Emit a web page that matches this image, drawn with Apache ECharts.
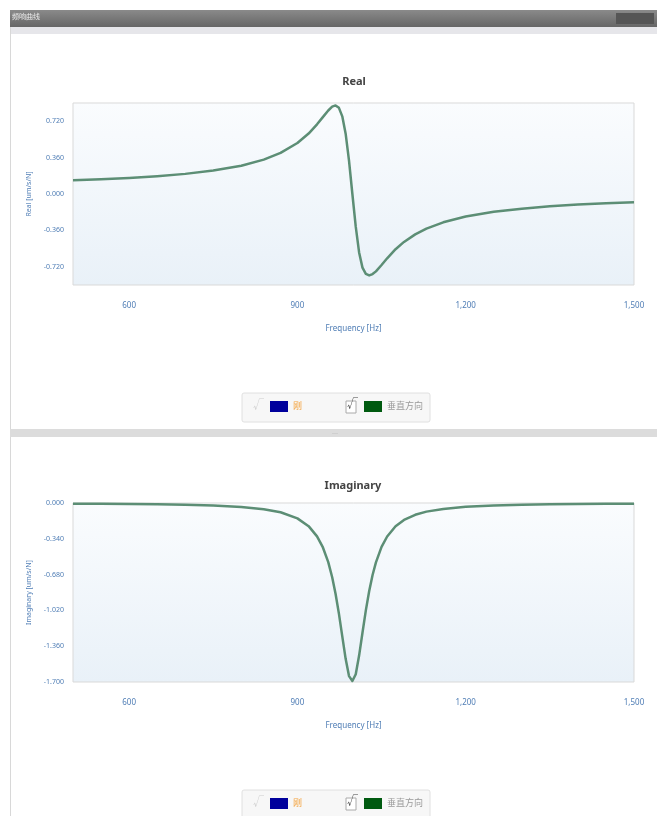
<!DOCTYPE html>
<html>
<head>
<meta charset="utf-8">
<script src="https://cdn.jsdelivr.net/npm/echarts@6/dist/echarts.min.js"></script>
<style>
  html, body { margin: 0; padding: 0; background: #fff; }
  #chart { width: 657px; height: 816px; }
</style>
</head>
<body>
<div id="chart"></div>
<script>
// frequency points (Hz)
const freq = [500, 550, 600, 650, 700, 750, 800, 840, 870, 900, 920, 935, 945, 955, 962, 968, 974, 980, 986, 992,
  998, 1004, 1010, 1016, 1022, 1028, 1034, 1040, 1050, 1060, 1075, 1090, 1110, 1130, 1160, 1200, 1250, 1300,
  1350, 1400, 1450, 1500];
const realVals = [0.136, 0.146, 0.159, 0.176, 0.199, 0.232, 0.280, 0.340, 0.406, 0.504, 0.598, 0.689, 0.758, 0.826,
  0.864, 0.876, 0.852, 0.768, 0.597, 0.331, 0.000, -0.323, -0.578, -0.728, -0.790, -0.805, -0.792, -0.765, -0.702,
  -0.636, -0.546, -0.474, -0.399, -0.342, -0.280, -0.223, -0.176, -0.145, -0.122, -0.105, -0.091, -0.081];
const imagVals = [-0.006, -0.007, -0.009, -0.012, -0.017, -0.024, -0.038, -0.059, -0.088, -0.146, -0.220, -0.317,
  -0.416, -0.562, -0.705, -0.862, -1.051, -1.267, -1.480, -1.644, -1.690, -1.626, -1.449, -1.232, -1.020, -0.836,
  -0.684, -0.564, -0.417, -0.318, -0.221, -0.161, -0.112, -0.082, -0.056, -0.036, -0.023, -0.016, -0.012, -0.009,
  -0.007, -0.006];

const xTicks = [600, 900, 1200, 1500];
const realTicks = [-0.72, -0.36, 0, 0.36, 0.72];
const seriesNames = ['刚', '垂直方向'];

const font = 'Noto Sans, Noto Sans CJK SC, sans-serif';
const labelBlue = '#4f7db5';
const lineColor = '#5c8e75';

const pair = vals => freq.map((f, i) => [f, vals[i]]);
const fmt3 = v => (Math.abs(v) < 1e-9 ? 0 : v).toFixed(3);

const plotBg = {
  type: 'linear', x: 0, y: 0, x2: 0, y2: 1,
  colorStops: [{ offset: 0, color: '#fafcfe' }, { offset: 1, color: '#e9f1f8' }]
};

function xAxisFor(idx) {
  return {
    type: 'value', gridIndex: idx, min: 500, max: 1500,
    name: 'Frequency [Hz]', nameLocation: 'middle', nameGap: 40,
    nameTextStyle: { color: labelBlue, fontSize: 8, fontFamily: font },
    axisLine: { show: false }, axisTick: { show: false }, splitLine: { show: false },
    axisLabel: {
      customValues: xTicks, margin: 17, color: labelBlue, fontSize: 8, fontFamily: font,
      formatter: v => v.toLocaleString('en-US')
    }
  };
}

function legendFor(top) {
  return {
    top: top, left: 265, itemWidth: 18, itemHeight: 11, itemGap: 62,
    selectedMode: false, icon: 'rect',
    textStyle: { fontSize: 9, fontFamily: font },
    data: [
      { name: seriesNames[0], textStyle: { color: '#f4a23c' } },
      { name: seriesNames[1], textStyle: { color: '#9a9a9a' } }
    ]
  };
}

function legendFrame(y) {
  return [
    { type: 'rect', shape: { x: 242, y: y, width: 188, height: 29, r: 2 },
      style: { fill: '#f7f7f7', stroke: '#e0e0e0', lineWidth: 1 }, z: -1 },
    { type: 'text', x: 253, y: y + 7, style: { text: '√', fill: '#d0d0d0', fontSize: 11, fontFamily: font } },
    { type: 'rect', shape: { x: 346, y: y + 8, width: 10, height: 12 },
      style: { fill: '#fff', stroke: '#aaa', lineWidth: 1 } },
    { type: 'text', x: 347, y: y + 6, style: { text: '√', fill: '#444', fontSize: 11, fontFamily: font } }
  ];
}

const lineSeries = (name, idx, vals) => ({
  name: name, type: 'line', xAxisIndex: idx, yAxisIndex: idx, data: pair(vals),
  showSymbol: false, itemStyle: { color: '#005a10' },
  lineStyle: { color: lineColor, width: 2.5, join: 'round' }
});

const chart = echarts.init(document.getElementById('chart'));
chart.setOption({
  animation: false,
  textStyle: { fontFamily: font },
  grid: [
    { left: 73, top: 103, width: 561, height: 182, show: true, backgroundColor: plotBg, borderColor: '#d9d9d9', borderWidth: 1 },
    { left: 73, top: 503, width: 561, height: 179, show: true, backgroundColor: plotBg, borderColor: '#d9d9d9', borderWidth: 1 }
  ],
  xAxis: [xAxisFor(0), xAxisFor(1)],
  yAxis: [
    {
      type: 'value', gridIndex: 0, min: -0.9, max: 0.9,
      name: 'Real [um/s/N]', nameLocation: 'middle', nameGap: 41,
      nameTextStyle: { color: labelBlue, fontSize: 7, fontFamily: font },
      axisLine: { show: false }, axisTick: { show: false }, splitLine: { show: false },
      axisLabel: { customValues: realTicks, margin: 9, color: labelBlue, fontSize: 7, formatter: fmt3 }
    },
    {
      type: 'value', gridIndex: 1, min: -1.7, max: 0, interval: 0.34,
      name: 'Imaginary [um/s/N]', nameLocation: 'middle', nameGap: 41,
      nameTextStyle: { color: labelBlue, fontSize: 7, fontFamily: font },
      axisLine: { show: false }, axisTick: { show: false }, splitLine: { show: false },
      axisLabel: { margin: 9, color: labelBlue, fontSize: 7, formatter: fmt3 }
    }
  ],
  legend: [legendFor(396), legendFor(793)],
  series: [
    { name: seriesNames[0], type: 'line', xAxisIndex: 0, yAxisIndex: 0, data: [], itemStyle: { color: '#00009c' } },
    lineSeries(seriesNames[1], 0, realVals),
    { name: seriesNames[0], type: 'line', xAxisIndex: 1, yAxisIndex: 1, data: [], itemStyle: { color: '#00009c' } },
    lineSeries(seriesNames[1], 1, imagVals)
  ],
  graphic: [
    // window frame
    { type: 'rect', shape: { x: 10, y: 10, width: 647, height: 17 },
      style: { fill: { type: 'linear', x: 0, y: 0, x2: 0, y2: 1,
        colorStops: [{ offset: 0, color: '#8a8a8a' }, { offset: 1, color: '#666' }] } } },
    { type: 'text', x: 12, y: 14, style: { text: '频响曲线', fill: '#eee', fontSize: 7, fontFamily: font } },
    { type: 'rect', shape: { x: 616, y: 13, width: 38, height: 11 }, style: { fill: '#555' } },
    { type: 'rect', shape: { x: 10, y: 27, width: 647, height: 7 }, style: { fill: '#e6e6ea' } },
    { type: 'rect', shape: { x: 10, y: 27, width: 1, height: 789 }, style: { fill: '#d8d8d8' } },
    // splitter between the two panels
    { type: 'rect', shape: { x: 10, y: 429, width: 647, height: 8 }, style: { fill: '#dcdcdc' } },
    { type: 'text', x: 335, y: 430, style: { text: '···', fill: '#888', fontSize: 6, align: 'center' } },
    // panel titles
    { type: 'text', x: 354, y: 76, style: { text: 'Real', fill: '#444', fontSize: 11, fontWeight: 'bold', align: 'center', fontFamily: font } },
    { type: 'text', x: 353, y: 480, style: { text: 'Imaginary', fill: '#444', fontSize: 11, fontWeight: 'bold', align: 'center', fontFamily: font } },
    ...legendFrame(393),
    ...legendFrame(790)
  ]
});
</script>
</body>
</html>
